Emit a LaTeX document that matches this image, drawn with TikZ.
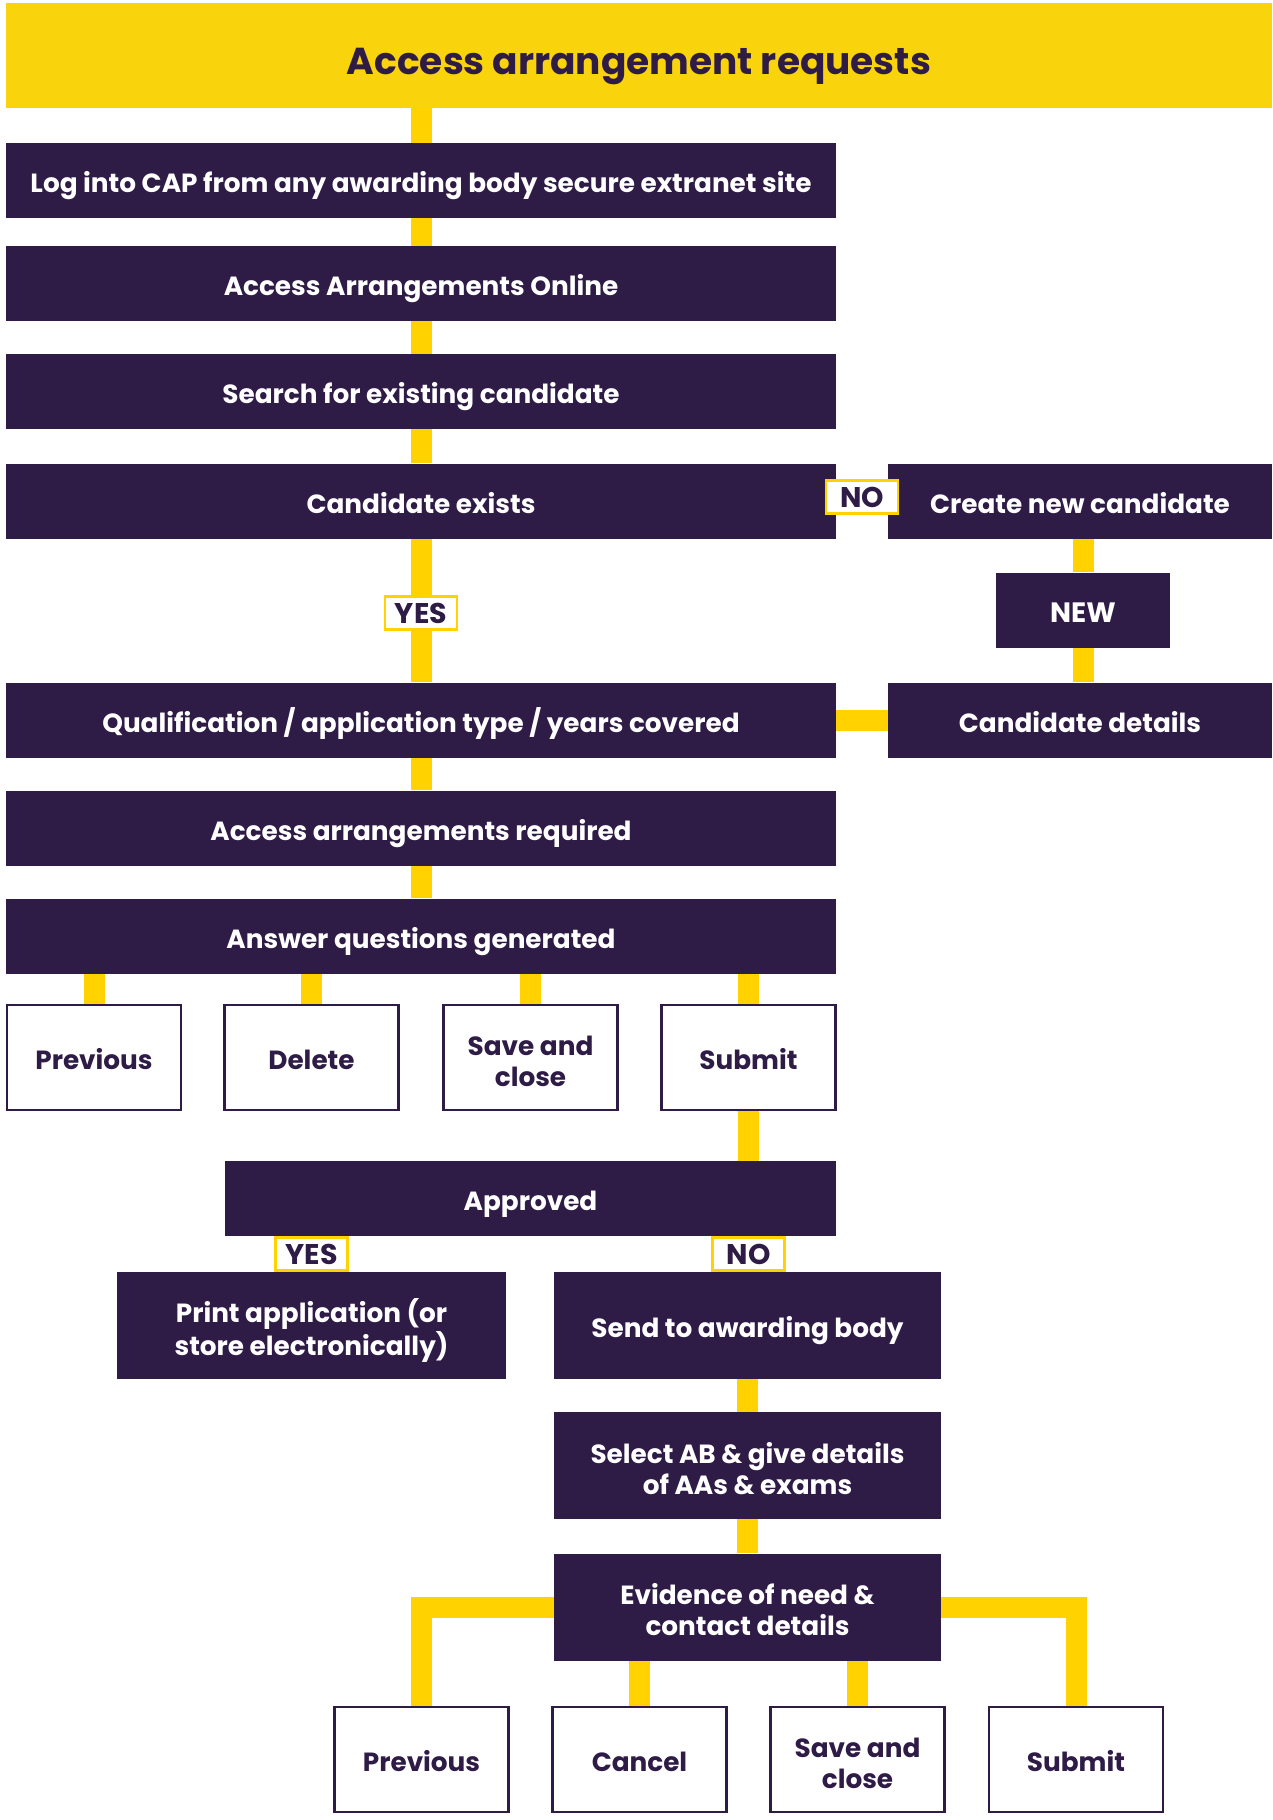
\documentclass[tikz,border=0pt]{standalone}
\usepackage{fontspec}
\setmainfont{Poppins}
\usetikzlibrary{backgrounds}
\definecolor{purp}{HTML}{2E1B46}
\definecolor{ban}{HTML}{F9D30B}
\definecolor{yel}{HTML}{FFD200}
\newcommand{\twolines}[2]{\begin{tabular}{@{}c@{}}\rule{0pt}{36pt}#1\\#2\end{tabular}}
\tikzset{
  boxfont/.style={font=\bfseries\fontsize{26.3}{31}\selectfont},
  oneline/.style={text height=24pt, text depth=0pt},
  pbox/.style={fill=purp, text=white, boxfont, inner sep=0pt, minimum height=75pt, align=center},
  wbox/.style={draw=purp, line width=2.5pt, fill=white, text=purp, boxfont, inner sep=0pt, minimum width=174pt, minimum height=105pt, align=center},
  lbl/.style={draw=yel, line width=2.5pt, fill=white, text=purp, font=\bfseries\fontsize{28.5}{30}\selectfont, inner sep=0pt, minimum width=72pt, minimum height=33pt, text height=21pt, text depth=0pt},
  conn/.style={draw=yel, line width=21pt}
}
\begin{document}
\begin{tikzpicture}[x=1pt,y=-1pt]
\useasboundingbox (0,0) rectangle (1272,1820);
% title
\node[fill=ban, text=purp, font=\bfseries\fontsize{37.5}{40}\selectfont, inner sep=0pt, minimum width=1266pt, minimum height=105pt, text height=38pt, text depth=0pt] (title) at (639,55.5) {Access arrangement requests};
% left column
\node[pbox, oneline, minimum width=830pt] (log) at (421,180.5) {Log into CAP from any awarding body secure extranet site};
\node[pbox, oneline, minimum width=830pt] (aao) at (421,283.5) {Access Arrangements Online};
\node[pbox, oneline, minimum width=830pt] (search) at (421,391.5) {Search for existing candidate};
\node[pbox, oneline, minimum width=830pt] (cex) at (421,501) {Candidate exists};
\node[pbox, oneline, minimum width=830pt] (qual) at (421,720) {Qualification / application type / years covered};
\node[pbox, oneline, minimum width=830pt] (aar) at (421,828) {Access arrangements required};
\node[pbox, oneline, minimum width=830pt] (ans) at (421,936) {Answer questions generated};
% right column
\node[pbox, oneline, minimum width=384pt] (create) at (1080,501) {Create new candidate};
\node[pbox, oneline, minimum width=174pt, font=\bfseries\fontsize{28}{31}\selectfont] (new) at (1083,610) {NEW};
\node[pbox, oneline, minimum width=384pt] (cdet) at (1080,720) {Candidate details};
% first button row
\node[wbox, oneline] (prev1) at (94,1057.5) {Previous};
\node[wbox, oneline] (del1) at (311.5,1057.5) {Delete};
\node[wbox] (save1) at (530.5,1057.5) {\twolines{Save and}{close}};
\node[wbox, oneline] (sub1) at (748.5,1057.5) {Submit};
% approval
\node[pbox, oneline, minimum width=611pt] (appr) at (530.5,1198.5) {Approved};
\node[pbox, minimum width=389pt, minimum height=107pt] (print) at (311.5,1325.5) {\twolines{Print application (or}{store electronically)}};
\node[pbox, oneline, minimum width=387pt, minimum height=107pt] (send) at (747.5,1325.5) {Send to awarding body};
\node[pbox, minimum width=387pt, minimum height=107pt] (sel) at (747.5,1465.5) {\twolines{Select AB \& give details}{of AAs \& exams}};
\node[pbox, minimum width=387pt, minimum height=107pt] (ev) at (747.5,1607) {\twolines{Evidence of need \&}{contact details}};
% second button row
\node[wbox, oneline] (prev2) at (421.5,1759.5) {Previous};
\node[wbox, oneline] (can2) at (639.5,1759.5) {Cancel};
\node[wbox] (save2) at (857.5,1759.5) {\twolines{Save and}{close}};
\node[wbox, oneline] (sub2) at (1076,1759.5) {Submit};
% connectors
\begin{scope}[on background layer]
\draw[conn] (log.north |- title.south) -- (log.north);
\draw[conn] (log) -- (aao);
\draw[conn] (aao) -- (search);
\draw[conn] (search) -- (cex);
\draw[conn] (cex) -- (qual);
\draw[conn] (qual) -- (aar);
\draw[conn] (aar) -- (ans);
\draw[conn] (cex.east) -- (create.west);
\draw[conn] (new.north |- create.south) -- (new.north);
\draw[conn] (new.south) -- (new.south |- cdet.north);
\draw[conn] (cdet.west) -- (qual.east);
\draw[conn] (prev1.north |- ans.south) -- (prev1.north);
\draw[conn] (del1.north |- ans.south) -- (del1.north);
\draw[conn] (save1.north |- ans.south) -- (save1.north);
\draw[conn] (sub1.north |- ans.south) -- (sub1.north);
\draw[conn] (sub1.south) -- (sub1.south |- appr.north);
\draw[conn] (print.north |- appr.south) -- (print.north);
\draw[conn] (send.north |- appr.south) -- (send.north);
\draw[conn] (send) -- (sel);
\draw[conn] (sel) -- (ev);
\draw[conn] (ev.west) -| (prev2.north);
\draw[conn] (ev.east) -| (sub2.north);
\draw[conn] (can2.north |- ev.south) -- (can2.north);
\draw[conn] (save2.north |- ev.south) -- (save2.north);
\end{scope}
% labels
\node[lbl] (no1) at (862,497) {NO};
\node[lbl] (yes1) at (421,613) {YES};
\node[lbl] (yes2) at (311.5,1254) {YES};
\node[lbl] (no2) at (748.5,1254) {NO};
\end{tikzpicture}
\end{document}
